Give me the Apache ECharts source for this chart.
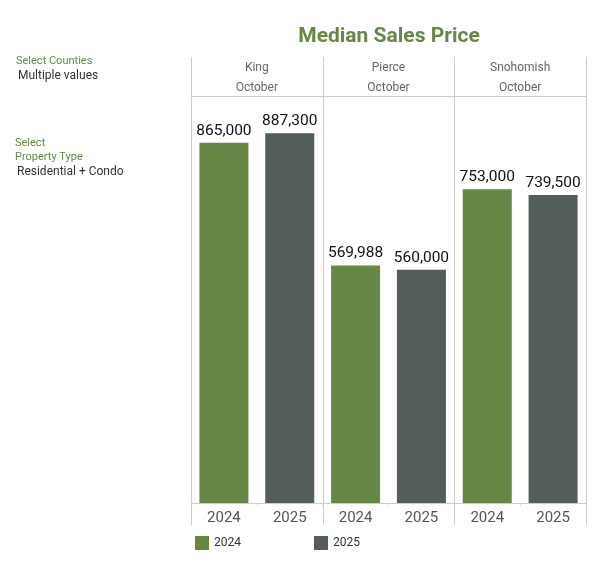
<!DOCTYPE html>
<html><head><meta charset="utf-8">
<script src="https://cdn.jsdelivr.net/npm/echarts@6/dist/echarts.min.js"></script>
<style>html,body{margin:0;padding:0;background:#fff}#c{width:599px;height:572px}</style>
</head><body><div id="c"></div>
<script>
const counties = ["King", "Pierce", "Snohomish"];
const month = "October";
const years = ["2024", "2025"];
const values2024 = [865000, 569988, 753000];
const values2025 = [887300, 560000, 739500];

const GREEN = '#678845', GRAY = '#535d5b', LINE = '#cccccc';
const L = 191, R = 586, T = 96, B = 503;

const cats = [];
counties.forEach(() => years.forEach(y => cats.push(y)));
const s1 = [], s2 = [];
counties.forEach((c, i) => { s1.push(values2024[i], '-'); s2.push('-', values2025[i]); });

const graphics = [];
for (let i = 0; i <= counties.length; i++) {
  const x = Math.round(L + (R - L) * i / counties.length) + 0.5;
  graphics.push({ type: 'line', shape: { x1: x, y1: 57, x2: x, y2: 525 }, style: { stroke: LINE, lineWidth: 1 }, z: 10 });
}
graphics.push(
  { type: 'text', left: 16, top: 56, style: { text: 'Select Counties', fill: GREEN, font: '11px Roboto' } },
  { type: 'text', left: 18, top: 70, style: { text: 'Multiple values', fill: '#333', font: '12px Roboto' } },
  { type: 'text', left: 15, top: 136, style: { text: 'Select\nProperty Type', fill: GREEN, font: '11px Roboto', lineHeight: 14 } },
  { type: 'text', left: 17, top: 166, style: { text: 'Residential + Condo', fill: '#333', font: '12px Roboto' } }
);

const labelFmt = p => p.value.toLocaleString('en-US');
const chart = echarts.init(document.getElementById('c'));
chart.setOption({
  animation: false,
  title: { text: 'Median Sales Price', left: 384, textAlign: 'center', top: 21,
    textStyle: { color: GREEN, fontFamily: 'Roboto', fontWeight: 'bold', fontSize: 21 } },
  grid: { left: L, right: 599 - R, top: T, bottom: 572 - B },
  legend: { bottom: 17, left: 190, itemWidth: 14, itemHeight: 14, itemGap: 73, icon: 'rect',
    textStyle: { color: '#333', fontFamily: 'Roboto', fontSize: 12 }, data: years },
  xAxis: [
    { type: 'category', data: cats, position: 'bottom',
      axisLine: { lineStyle: { color: LINE } },
      axisTick: { show: true, length: 3, lineStyle: { color: '#e4e4e4' } },
      axisLabel: { color: '#555', fontFamily: 'Roboto', fontSize: 15, margin: 8 } },
    { type: 'category', data: counties.map(c => c + '\n' + month), position: 'top',
      axisLine: { show: true, lineStyle: { color: LINE } }, axisTick: { show: false },
      axisLabel: { color: '#666', fontFamily: 'Roboto', fontSize: 12, lineHeight: 20, margin: -2 } }
  ],
  yAxis: { type: 'value', min: 0, max: 977000, show: false, splitLine: { show: false } },
  series: [
    { name: years[0], type: 'bar', data: s1, barWidth: 49, barGap: '-100%', itemStyle: { color: GREEN },
      label: { show: true, position: 'top', distance: 4, color: '#111', fontFamily: 'Roboto', fontSize: 15.5, formatter: labelFmt } },
    { name: years[1], type: 'bar', data: s2, barWidth: 49, barGap: '-100%', itemStyle: { color: GRAY },
      label: { show: true, position: 'top', distance: 4, color: '#111', fontFamily: 'Roboto', fontSize: 15.5, formatter: labelFmt } }
  ],
  graphic: graphics
});
</script></body></html>
